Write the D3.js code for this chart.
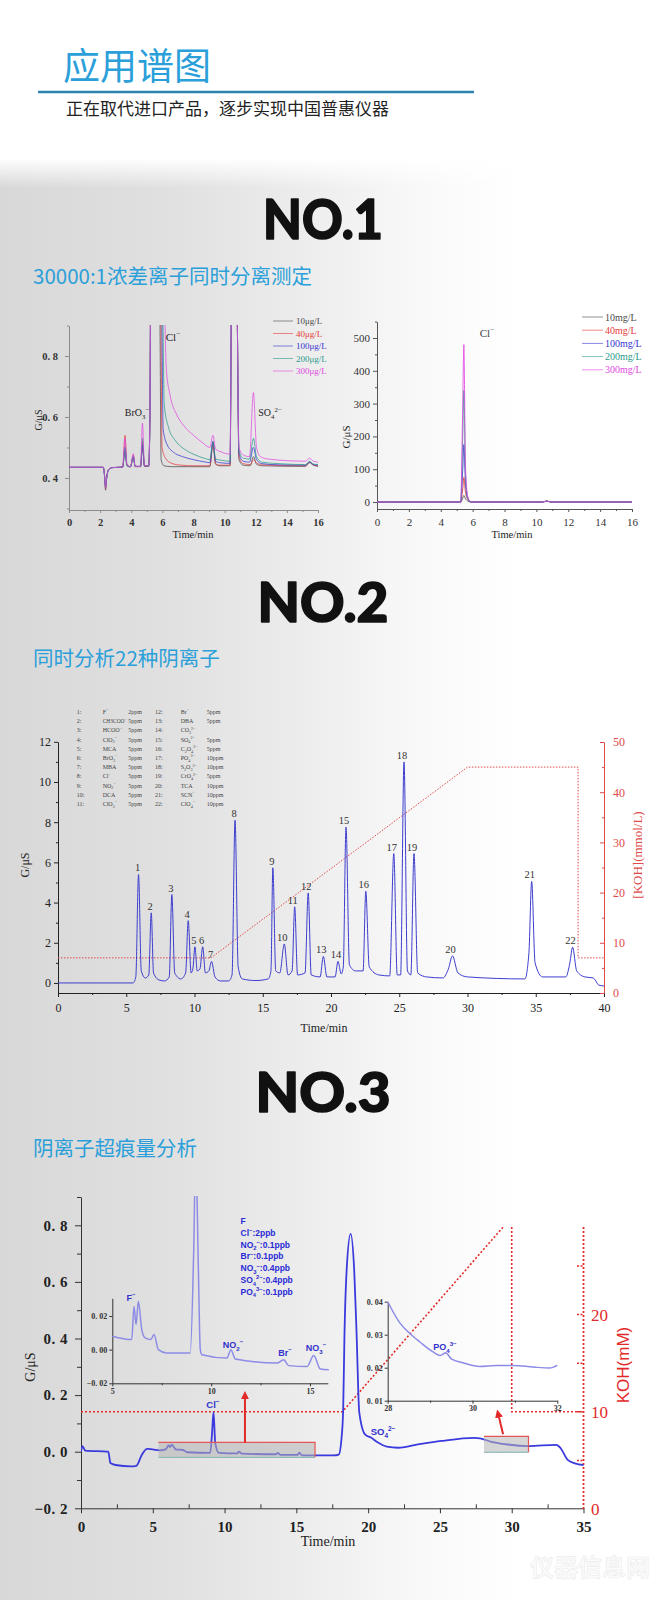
<!DOCTYPE html>
<html>
<head>
<meta charset="utf-8">
<script src="https://cdn.jsdelivr.net/npm/d3@7"></script>
<style>
  body { margin: 0; background: #fff; }
  svg { display: block; }
</style>
</head>
<body>
<div id="page"></div>
<script>
// ---------- data ----------
var headTitle = "应用谱图";
var headSub = "正在取代进口产品，逐步实现中国普惠仪器";
var sectionNames = ["NO.1", "NO.2", "NO.3"];
var sectionSubs = ["30000:1浓差离子同时分离测定", "同时分析22种阴离子", "阴离子超痕量分析"];

// NO.1 left : low level standards, G/uS vs time
var lowNames = ["10μg/L", "40μg/L", "100μg/L", "200μg/L", "300μg/L"];
var low10 = [[0,.435],[2.2,.435],[2.28,.41],[2.35,.36],[2.42,.40],[2.55,.428],[2.8,.434],[3.45,.435],[3.6,.49],[3.72,.44],[3.95,.436],[4.13,.47],[4.25,.437],[4.6,.437],[4.72,.50],[4.85,.438],[5.12,.438],[5.2,.6],[5.25,1.0],[5.82,1.0],[5.92,.46],[6.1,.44],[6.6,.437],[9.05,.437],[9.25,.51],[9.42,.445],[9.7,.44],[10.35,.44],[10.45,1.0],[10.78,1.0],[10.92,.46],[11.2,.442],[11.65,.44],[11.85,.47],[12.05,.445],[12.4,.44],[15.2,.438],[15.45,.45],[15.7,.442],[16,.438]];
var low40 = [[0,.435],[2.2,.435],[2.28,.41],[2.35,.365],[2.42,.40],[2.55,.428],[2.8,.434],[3.45,.436],[3.6,.54],[3.72,.445],[3.95,.437],[4.13,.475],[4.25,.438],[4.6,.438],[4.72,.52],[4.85,.44],[5.12,.44],[5.2,.6],[5.25,1.0],[5.88,1.0],[5.98,.5],[6.2,.465],[6.6,.448],[7.2,.442],[8,.44],[9.05,.44],[9.25,.515],[9.42,.447],[9.7,.442],[10.35,.442],[10.45,1.0],[10.78,1.0],[10.92,.47],[11.2,.447],[11.65,.444],[11.85,.46],[12.05,.45],[12.4,.443],[15.2,.44],[15.45,.452],[15.7,.443],[16,.44]];
var low100 = [[0,.435],[2.2,.435],[2.28,.41],[2.35,.37],[2.42,.40],[2.55,.428],[2.8,.434],[3.45,.436],[3.6,.50],[3.72,.442],[3.95,.437],[4.13,.47],[4.25,.438],[4.6,.438],[4.72,.51],[4.85,.44],[5.12,.44],[5.2,.6],[5.25,1.0],[5.94,1.0],[6.05,.56],[6.3,.51],[6.7,.485],[7.3,.47],[8,.46],[8.8,.452],[9.05,.45],[9.25,.52],[9.42,.455],[9.7,.45],[10.35,.448],[10.45,1.0],[10.78,1.0],[10.92,.48],[11.2,.455],[11.6,.452],[11.85,.50],[12.05,.46],[12.4,.447],[13.5,.443],[15.2,.442],[15.45,.452],[15.7,.444],[16,.442]];
var low200 = [[0,.435],[2.2,.435],[2.28,.41],[2.35,.37],[2.42,.40],[2.55,.428],[2.8,.434],[3.45,.436],[3.6,.50],[3.72,.442],[3.95,.437],[4.13,.47],[4.25,.438],[4.6,.438],[4.72,.53],[4.85,.44],[5.12,.44],[5.2,.6],[5.25,1.0],[6.0,1.0],[6.12,.64],[6.4,.565],[6.8,.525],[7.4,.495],[8,.478],[8.8,.463],[9.05,.46],[9.25,.52],[9.42,.462],[9.8,.458],[10.35,.455],[10.45,1.0],[10.78,1.0],[10.92,.49],[11.2,.465],[11.6,.462],[11.85,.53],[12.05,.47],[12.4,.452],[13.5,.447],[15.2,.444],[15.45,.455],[15.7,.446],[16,.444]];
var low300 = [[0,.435],[2.2,.435],[2.28,.41],[2.35,.37],[2.42,.40],[2.55,.428],[2.8,.434],[3.45,.436],[3.6,.53],[3.72,.444],[3.95,.437],[4.13,.48],[4.25,.438],[4.6,.438],[4.72,.58],[4.85,.44],[5.12,.44],[5.2,.6],[5.25,1.0],[6.1,1.0],[6.25,.76],[6.5,.67],[6.9,.61],[7.4,.57],[8,.54],[8.6,.515],[9.05,.5],[9.25,.54],[9.42,.495],[9.8,.485],[10.35,.478],[10.45,1.0],[10.78,1.0],[10.92,.5],[11.2,.475],[11.6,.47],[11.85,.68],[12.05,.5],[12.3,.47],[12.8,.462],[15.2,.455],[15.45,.465],[15.7,.455],[16,.452]];

// NO.1 right : high level standards
var highNames = ["10mg/L", "40mg/L", "100mg/L", "200mg/L", "300mg/L"];
var high10 = [[0,0],[5.25,0],[5.38,12],[5.45,20],[5.55,10],[5.7,3],[5.9,0],[10.4,0],[10.65,3],[10.9,0],[16,0]];
var high40 = [[0,0],[5.25,0],[5.38,40],[5.45,75],[5.55,30],[5.7,8],[5.9,0],[10.4,0],[10.65,3],[10.9,0],[16,0]];
var high100 = [[0,0],[5.25,0],[5.38,100],[5.45,175],[5.55,60],[5.7,10],[5.9,0],[10.4,0],[10.65,3],[10.9,0],[16,0]];
var high200 = [[0,0],[5.25,0],[5.38,200],[5.45,340],[5.55,90],[5.7,12],[5.9,0],[10.4,0],[10.65,3],[10.9,0],[16,0]];
var high300 = [[0,0],[5.25,0],[5.38,300],[5.45,480],[5.55,110],[5.7,15],[5.9,0],[10.4,0],[10.65,3],[10.9,0],[16,0]];

// NO.2 : 22 anions
var no2Trace = [[0,0],[5.5,0],[5.7,0.3],[5.9,5.4],[6.1,0.6],[6.4,0.25],[6.65,0.4],[6.83,3.49],[7.0,0.5],[7.4,0.15],[7.8,0.1],[8.15,0.3],[8.34,4.4],[8.55,0.5],[9.0,0.2],[9.35,0.5],[9.54,3.1],[9.75,0.5],[9.88,0.7],[10.03,1.8],[10.2,0.6],[10.4,0.7],[10.6,1.8],[10.8,0.5],[11.05,0.6],[11.25,1.07],[11.5,0.3],[11.9,0.1],[12.5,0.1],[12.75,0.4],[12.97,8.1],[13.2,0.8],[13.5,0.2],[14.5,0.12],[15.4,0.2],[15.6,0.6],[15.74,5.73],[15.95,0.6],[16.25,0.5],[16.58,1.94],[16.85,0.4],[17.15,0.6],[17.34,3.79],[17.55,0.4],[18.1,0.5],[18.33,4.48],[18.55,0.4],[19.2,0.3],[19.44,1.32],[19.7,0.3],[20.3,0.3],[20.51,1.07],[20.75,0.45],[20.9,0.8],[21.1,7.76],[21.35,0.9],[21.8,0.6],[22.35,0.6],[22.55,4.56],[22.8,0.8],[23.5,0.4],[24.3,0.35],[24.6,6.44],[24.85,0.4],[25.1,0.4],[25.35,11.0],[25.6,0.6],[25.85,0.4],[26.08,6.44],[26.35,0.5],[27,0.3],[28.2,0.25],[28.6,0.7],[28.9,1.35],[29.3,0.5],[30,0.3],[34.2,0.2],[34.5,1.5],[34.7,5.05],[34.95,1.0],[35.5,0.3],[37.2,0.3],[37.5,1.0],[37.7,1.78],[38,0.6],[38.6,0.3],[39.2,0.25],[39.4,0.1],[39.6,-0.1],[40,-0.15]];
var no2PeakT = [5.9,6.83,8.34,9.54,10.03,10.6,11.25,12.97,15.74,16.58,17.34,18.33,19.44,20.51,21.1,22.55,24.6,25.35,26.08,28.9,34.7,37.7];
var no2PeakH = [5.4,3.49,4.4,3.1,1.8,1.8,1.07,8.1,5.73,1.94,3.79,4.48,1.32,1.07,7.76,4.56,6.44,11.0,6.44,1.35,5.05,1.78];
var no2Koh = [[0,7],[11.2,7],[30,45],[38.1,45],[38.1,7],[40,7]];
var no2Ions = ["F^{−}","CH3COO^{−}","HCOO^{−}","ClO_{2}^{−}","MCA","BrO_{3}^{−}","MBA","Cl^{−}","NO_{2}^{−}","DCA","ClO_{3}^{−}",
               "Br^{−}","DBA","CO_{3}^{2−}","SO_{4}^{2−}","C_{2}O_{4}^{2−}","PO_{4}^{3−}","S_{2}O_{3}^{2−}","CrO_{4}^{2−}","TCA","SCN^{−}","ClO_{4}^{−}"];
var no2Conc = ["2ppm","5ppm","5ppm","5ppm","5ppm","5ppm","5ppm","5ppm","5ppm","5ppm","5ppm",
               "5ppm","5ppm","","5ppm","5ppm","10ppm","10ppm","5ppm","10ppm","10ppm","10ppm"];

// NO.3 : ultra trace
var no3Trace = [[0,0],[0.1,0.02],[0.3,0.004],[1.9,0.0],[2.05,-0.04],[2.4,-0.047],[3.5,-0.052],[3.85,-0.05],[4.25,-0.01],[4.6,0.01],[5.0,0.008],[5.5,0.005],[5.9,0.008],[6.1,0.022],[6.2,0.016],[6.32,0.025],[6.6,0.008],[7.1,0.006],[7.4,-0.002],[9.0,-0.004],[9.12,0.06],[9.23,0.14],[9.35,0.03],[9.6,-0.004],[10.9,-0.006],[11.0,0.0],[11.2,-0.007],[13.6,-0.009],[13.7,-0.004],[13.9,-0.011],[15.1,-0.011],[15.2,-0.003],[15.4,-0.013],[17.6,-0.013],[17.95,-0.01],[18.15,0.05],[18.26,0.147],[18.35,0.41],[18.5,0.64],[18.78,0.77],[19.03,0.64],[19.2,0.41],[19.38,0.14],[19.8,0.06],[20.2,0.05],[20.6,0.035],[21.3,0.018],[22.1,0.014],[23.3,0.024],[25.1,0.038],[27.4,0.049],[27.8,0.047],[28.6,0.035],[29.5,0.027],[31.2,0.02],[33.1,0.024],[33.4,0.013],[33.9,-0.029],[34.4,-0.041],[35,-0.047]];
var no3KohRamp = [[0,10],[18.2,10],[29.4,29]];
var no3KohDrop = [[30,29],[30,10],[35,10]];
var inset1Trace = [[5.0,0.008],[5.98,0.006],[6.1,0.0257],[6.2,0.0149],[6.32,0.0287],[6.49,0.0119],[6.66,0.007],[6.95,0.006],[7.11,0.009],[7.33,0.0],[7.75,-0.002],[8.94,-0.002],[9.12,0.06],[9.22,0.12],[9.35,0.05],[9.45,0.0],[9.53,-0.003],[10.8,-0.005],[11.0,0.0],[11.22,-0.0055],[13.33,-0.008],[13.67,-0.006],[13.92,-0.0095],[14.85,-0.01],[15.19,-0.0035],[15.52,-0.0115],[15.95,-0.012]];
var inset2Trace = [[28,0.04],[28.29,0.0335],[28.53,0.0303],[28.76,0.0278],[29.08,0.0247],[29.24,0.0237],[29.37,0.0245],[29.5,0.0227],[29.78,0.0215],[30.17,0.0204],[30.56,0.0207],[30.96,0.0207],[31.43,0.0202],[31.82,0.0199],[32,0.0207]];
var no3Conc = ["F","Cl^{−}:2ppb","NO_{2}^{−}:0.1ppb","Br^{−}:0.1ppb","NO_{3}^{−}:0.4ppb","SO_{4}^{2−}:0.4ppb","PO_{4}^{3−}:0.1ppb"];

// ---------- setup ----------
var serif = "'Liberation Serif','Times New Roman',serif";
var sans = "'Liberation Sans',Arial,sans-serif";
var cjk = "'Noto Sans CJK SC','Noto Sans',sans-serif";
var heavy = "Lato,Inter,'DejaVu Sans',sans-serif";
var seriesColor = ["#4a4a4a", "#e63b3b", "#3535d0", "#2a9a8c", "#e048e0"];
var blue = "#2b9fd9";

var svg = d3.select("#page").append("svg").attr("width", 663).attr("height", 1600);
var defs = svg.append("defs");

var gH = defs.append("linearGradient").attr("id", "bgH");
[[0, "#d8d8d8"], [0.25, "#e0e0e0"], [0.45, "#ececec"], [0.62, "#f8f8f8"], [0.78, "#ffffff"]].forEach(function(s) {
	gH.append("stop").attr("offset", s[0]).attr("stop-color", s[1]);
});
var gV = defs.append("linearGradient").attr("id", "bgV").attr("x1", 0).attr("x2", 0).attr("y1", 0).attr("y2", 1);
gV.append("stop").attr("offset", 0).attr("stop-color", "#fff").attr("stop-opacity", 1);
gV.append("stop").attr("offset", 1).attr("stop-color", "#fff").attr("stop-opacity", 0);

svg.append("rect").attr("width", 663).attr("height", 1600).attr("fill", "#fff");
svg.append("rect").attr("y", 160).attr("width", 663).attr("height", 1440).attr("fill", "url(#bgH)");
svg.append("rect").attr("y", 158).attr("width", 663).attr("height", 30).attr("fill", "url(#bgV)");

function clip(id, x, y, w, h) {
	defs.append("clipPath").attr("id", id).append("rect").attr("x", x).attr("y", y).attr("width", w).attr("height", h);
}

// text with _{sub} and ^{sup} parts
function rich(text, s, fs) {
	var parts = s.split(/(_\{[^}]*\}|\^\{[^}]*\})/).filter(function(p) { return p; });
	var off = 0;
	parts.forEach(function(p) {
		var target = 0, str = p, small = false;
		if (p.indexOf("_{") === 0) { target = fs * 0.3; str = p.slice(2, -1); small = true; }
		else if (p.indexOf("^{") === 0) { target = -fs * 0.42; str = p.slice(2, -1); small = true; }
		var ts = text.append("tspan").attr("dy", target - off).text(str);
		if (small) ts.attr("font-size", fs * 0.68);
		off = target;
	});
	return text;
}

function label(x, y, s, o) {
	o = o || {};
	var t = svg.append("text").attr("x", x).attr("y", y)
		.attr("font-family", o.font || serif).attr("font-size", o.size || 11)
		.attr("font-weight", o.weight || "normal").attr("fill", o.fill || "#222")
		.attr("text-anchor", o.anchor || "start");
	if (o.rotate) t.attr("transform", "rotate(" + o.rotate + "," + x + "," + y + ")");
	return rich(t, s, o.size || 11);
}

function axisG(gen, tx, ty, o) {
	var g = svg.append("g").attr("transform", "translate(" + tx + "," + ty + ")").call(gen);
	g.attr("font-family", o.font || serif).attr("font-size", o.size || 11).attr("font-weight", o.weight || "normal");
	g.select(".domain").attr("stroke", o.color || "#222").attr("stroke-width", o.width || 1);
	g.selectAll(".tick line").attr("stroke", o.color || "#222").attr("stroke-width", o.width || 1);
	g.selectAll(".tick text").attr("fill", o.text || "#222").attr("letter-spacing", o.spacing || 0);
	if (o.noDomain) g.select(".domain").remove();
	return g;
}

function trace(data, x, y, color, w, clipId, op) {
	var line = d3.line().x(function(d) { return x(d[0]); }).y(function(d) { return y(d[1]); }).curve(d3.curveMonotoneX);
	return svg.append("path").datum(data).attr("d", line).attr("fill", "none")
		.attr("stroke", color).attr("stroke-width", w).attr("stroke-opacity", op || 1)
		.attr("stroke-linejoin", "round").attr("clip-path", clipId ? "url(#" + clipId + ")" : null);
}

var dotFmt = function(d) { return d3.format(".1f")(d).replace(".", ". ").replace("-", "−"); };
var dot2Fmt = function(d) { return d3.format(".2f")(d).replace(".", ". "); };

// ---------- header ----------
svg.append("text").attr("x", 63).attr("y", 80).attr("font-family", cjk).attr("font-size", 37)
	.attr("fill", blue).text(headTitle);
svg.append("line").attr("x1", 38).attr("x2", 474).attr("y1", 92).attr("y2", 92)
	.attr("stroke", "#2a84ae").attr("stroke-width", 2.5);
svg.append("text").attr("x", 66).attr("y", 115).attr("font-family", cjk).attr("font-size", 17)
	.attr("fill", "#222").text(headSub);

var headY = [239, 622, 1112], headW = [120, 131, 135], subY = [284, 666, 1156];
sectionNames.forEach(function(s, i) {
	svg.append("text").attr("x", 323).attr("y", headY[i]).attr("text-anchor", "middle")
		.attr("font-family", heavy).attr("font-weight", 900).attr("font-size", 56)
		.attr("textLength", headW[i]).attr("lengthAdjust", "spacingAndGlyphs")
		.attr("fill", "#111").attr("stroke", "#111").attr("stroke-width", 1.6)
		.attr("stroke-linejoin", "round").text(s);
	svg.append("text").attr("x", 33).attr("y", subY[i]).attr("font-family", cjk).attr("font-size", 20.5)
		.attr("fill", blue).text(sectionSubs[i]);
});

// ---------- NO.1 left ----------
var xA = d3.scaleLinear().domain([0, 16]).range([69, 318]);
var yA = d3.scaleLinear().domain([0.295, 0.9]).range([510, 325.5]);
clip("cA", 69, 325, 250, 185);
var grayAx = { color: "#8c8c8c", text: "#333", size: 10.5, weight: "bold" };
axisG(d3.axisBottom(xA).tickValues(d3.range(0, 17, 2)).tickSize(3).tickPadding(6).tickSizeOuter(0), 0, 510, grayAx);
axisG(d3.axisBottom(xA).tickValues(d3.range(1, 16, 2)).tickSize(2).tickFormat(""), 0, 510, { color: "#8c8c8c", noDomain: true });
axisG(d3.axisLeft(yA).tickValues([0.4, 0.6, 0.8]).tickFormat(dotFmt).tickSize(4).tickPadding(7).tickSizeOuter(0), 69, 0, grayAx);
axisG(d3.axisLeft(yA).tickValues([0.3, 0.5, 0.7, 0.9]).tickSize(2).tickFormat(""), 69, 0, { color: "#8c8c8c", noDomain: true });
[low10, low40, low100, low200, low300].forEach(function(s, i) {
	trace(s, xA, yA, seriesColor[i], 1, "cA", 0.75);
});
lowNames.forEach(function(n, i) {
	var yy = 321 + i * 12.5;
	svg.append("line").attr("x1", 273).attr("x2", 293).attr("y1", yy).attr("y2", yy)
		.attr("stroke", seriesColor[i]).attr("stroke-opacity", 0.6);
	label(296, yy + 3, n, { size: 9, fill: seriesColor[i] });
});
label(137, 416, "BrO_{3}^{−}", { size: 10, anchor: "middle" });
label(173, 341, "Cl^{−}", { size: 11, anchor: "middle" });
label(270, 416, "SO_{4}^{2−}", { size: 10, anchor: "middle" });
label(193, 538, "Time/min", { size: 10.5, anchor: "middle" });
label(42, 420, "G/μS", { size: 10, anchor: "middle", rotate: -90 });

// ---------- NO.1 right ----------
var xB = d3.scaleLinear().domain([0, 16]).range([377, 632]);
var yB = d3.scaleLinear().domain([-21, 550]).range([508.9, 321.6]);
clip("cB", 377, 321, 256, 188);
var darkAx = { color: "#555", text: "#333", size: 11 };
axisG(d3.axisBottom(xB).tickValues(d3.range(0, 17, 2)).tickSize(3).tickPadding(6).tickSizeOuter(0), 0, 509, darkAx);
axisG(d3.axisBottom(xB).tickValues(d3.range(1, 16, 2)).tickSize(2).tickFormat(""), 0, 509, { color: "#555", noDomain: true });
axisG(d3.axisLeft(yB).tickValues(d3.range(0, 501, 100)).tickSize(4).tickPadding(3).tickSizeOuter(0), 377, 0, darkAx);
axisG(d3.axisLeft(yB).tickValues(d3.range(50, 551, 100)).tickSize(2).tickFormat(""), 377, 0, { color: "#555", noDomain: true });
[high10, high40, high100, high200, high300].forEach(function(s, i) {
	trace(s, xB, yB, seriesColor[i], 1, "cB", 0.85);
});
highNames.forEach(function(n, i) {
	var yy = 317 + i * 13.2;
	svg.append("line").attr("x1", 582).attr("x2", 603).attr("y1", yy).attr("y2", yy)
		.attr("stroke", seriesColor[i]).attr("stroke-opacity", 0.6);
	label(605, yy + 3.5, n, { size: 10, fill: seriesColor[i] });
});
label(487, 337, "Cl^{−}", { size: 11, anchor: "middle", fill: "#444" });
label(512, 538, "Time/min", { size: 10.5, anchor: "middle" });
label(350, 437, "G/μS", { size: 11, anchor: "middle", rotate: -90 });

// ---------- NO.2 ----------
var xC = d3.scaleLinear().domain([0, 40]).range([58, 604]);
var yC = d3.scaleLinear().domain([-0.5, 12]).range([993, 741.8]);
var yCk = d3.scaleLinear().domain([0, 50]).range([993, 742]);
clip("cC", 58, 738, 546, 256);
var red2 = "#e04a4a";
axisG(d3.axisBottom(xC).tickValues(d3.range(0, 41, 5)).tickSize(4).tickPadding(6).tickSizeOuter(0), 0, 993, { size: 12 });
axisG(d3.axisBottom(xC).tickValues(d3.range(2.5, 40, 5)).tickSize(2).tickFormat(""), 0, 993, { noDomain: true });
axisG(d3.axisLeft(yC).tickValues(d3.range(0, 13, 2)).tickSize(4).tickPadding(3).tickSizeOuter(0), 58, 0, { size: 12 });
axisG(d3.axisLeft(yC).tickValues(d3.range(1, 12, 2)).tickSize(2).tickFormat(""), 58, 0, { noDomain: true });
axisG(d3.axisRight(yCk).tickValues(d3.range(0, 51, 10)).tickSize(-4).tickPadding(9).tickSizeOuter(0), 604, 0, { size: 12, color: red2, text: red2 });
axisG(d3.axisRight(yCk).tickValues(d3.range(5, 50, 10)).tickSize(-2).tickFormat(""), 604, 0, { color: red2, noDomain: true });

svg.append("path").datum(no2Koh)
	.attr("d", d3.line().x(function(d) { return xC(d[0]); }).y(function(d) { return yCk(d[1]); }))
	.attr("fill", "none").attr("stroke", red2).attr("stroke-width", 1).attr("stroke-dasharray", "1.5,1.5");
trace(no2Trace, xC, yC, "#3d3dcf", 1, "cC");

no2PeakT.forEach(function(t, i) {
	var n = String(i + 1);
	label(xC(t) - (n.length > 1 ? 2 : 1), yC(no2PeakH[i]) - 3, n, { size: 10.5, anchor: "middle", fill: "#333" });
});

// legend table
var colX = [76.7, 102.7, 128.3, 155, 180.7, 206.7];
no2Ions.forEach(function(ion, i) {
	var c = i < 11 ? 0 : 3, r = i % 11;
	var yy = 714 + r * 9.2;
	label(colX[c], yy, (i + 1) + ":", { size: 6, fill: "#444" });
	var t = label(colX[c + 1], yy, ion, { size: 6, fill: "#444" });
	if (t.node().getComputedTextLength() > 24) t.attr("textLength", 24).attr("lengthAdjust", "spacingAndGlyphs");
	label(colX[c + 2], yy, no2Conc[i], { size: 6, fill: "#444" });
});
label(324, 1032, "Time/min", { size: 12, anchor: "middle" });
label(29, 865, "G/μS", { size: 12, anchor: "middle", rotate: -90 });
label(642, 855, "[KOH](mmol/L)", { size: 13, anchor: "middle", rotate: -90, fill: red2 });

// ---------- NO.3 ----------
var xD = d3.scaleLinear().domain([0, 35]).range([81, 583.5]);
var yD = d3.scaleLinear().domain([-0.2, 0.9]).range([1508.3, 1197]);
var yDk = d3.scaleLinear().domain([0, 29]).range([1509, 1227]);
clip("cD", 81, 1190, 503, 320);
var red3 = "#e32a2a";
var boldAx = { size: 15, weight: "bold", color: "#333", text: "#222" };
axisG(d3.axisBottom(xD).tickValues(d3.range(0, 36, 5)).tickSize(5).tickPadding(8).tickSizeOuter(0), 0, 1508.3, boldAx);
axisG(d3.axisBottom(xD).tickValues(d3.range(2.5, 35, 5)).tickSize(-4).tickFormat(""), 0, 1508.3, { color: "#333", noDomain: true });
axisG(d3.axisLeft(yD).tickValues([-0.2, 0, 0.2, 0.4, 0.6, 0.8]).tickFormat(dotFmt).tickSize(6).tickPadding(7).tickSizeOuter(0), 81, 0,
	{ size: 15, weight: "bold", color: "#333", text: "#222", spacing: 0.5 });
axisG(d3.axisLeft(yD).tickValues([-0.1, 0.1, 0.3, 0.5, 0.7, 0.9]).tickSize(4).tickFormat(""), 81, 0, { color: "#333", noDomain: true });

// red dotted KOH axis
svg.append("line").attr("x1", 583.5).attr("x2", 583.5).attr("y1", yDk(0)).attr("y2", yDk(29))
	.attr("stroke", red3).attr("stroke-width", 1.8).attr("stroke-dasharray", "2,2");
[5, 10, 15, 20, 25].forEach(function(v) {
	svg.append("line").attr("x1", 577).attr("x2", 583.5).attr("y1", yDk(v)).attr("y2", yDk(v))
		.attr("stroke", red3).attr("stroke-width", 1.5).attr("stroke-dasharray", "2,1.5");
});
[0, 10, 20].forEach(function(v) {
	label(591, yDk(v) + 6, String(v), { size: 17, fill: red3 });
});
label(629, 1365, "KOH(mM)", { size: 17, anchor: "middle", rotate: -90, fill: red3, font: sans });

var kohLine = d3.line().x(function(d) { return xD(d[0]); }).y(function(d) { return yDk(d[1]); });
[no3KohRamp, no3KohDrop].forEach(function(k) {
	svg.append("path").datum(k).attr("d", kohLine).attr("fill", "none")
		.attr("stroke", red3).attr("stroke-width", 1.6).attr("stroke-dasharray", "2,2");
});

trace(no3Trace, xD, yD, "#3a3ade", 1.8, "cD");

// zoom boxes on the main trace
[[5.4, 16.3, -0.02, 0.033], [28.07, 31.17, -0.002, 0.054]].forEach(function(b) {
	var x0 = xD(b[0]), x1 = xD(b[1]), y0 = yD(b[3]), y1 = yD(b[2]);
	svg.append("rect").attr("x", x0).attr("y", y0).attr("width", x1 - x0).attr("height", y1 - y0)
		.attr("fill", "#b4b4b4").attr("fill-opacity", 0.55);
	svg.append("path").attr("d", "M" + x0 + "," + y0 + "H" + x1 + "V" + y1)
		.attr("fill", "none").attr("stroke", "#e45555").attr("stroke-width", 1.2);
	svg.append("line").attr("x1", x0).attr("x2", x1).attr("y1", y1).attr("y2", y1)
		.attr("stroke", "#7fb3b3").attr("stroke-width", 1);
});

// arrows
defs.append("marker").attr("id", "arr").attr("viewBox", "0 0 10 10").attr("refX", 5).attr("refY", 5)
	.attr("markerWidth", 4).attr("markerHeight", 4).attr("orient", "auto")
	.append("path").attr("d", "M0,0L10,5L0,10z").attr("fill", red3);
[[11.42, 0.032, 11.42, 0.2], [29.4, 0.062, 29.05, 0.135]].forEach(function(a) {
	svg.append("line").attr("x1", xD(a[0])).attr("y1", yD(a[1])).attr("x2", xD(a[2])).attr("y2", yD(a[3]))
		.attr("stroke", red3).attr("stroke-width", 2).attr("marker-end", "url(#arr)");
});

var blueLab = "#3232cc";
label(213, 1408, "Cl^{−}", { size: 9.5, anchor: "middle", font: sans, weight: "bold", fill: blueLab });
label(383, 1435, "SO_{4}^{2−}", { size: 9.5, anchor: "middle", font: sans, weight: "bold", fill: blueLab });
label(328, 1546, "Time/min", { size: 14, anchor: "middle" });
label(35, 1367, "G/μS", { size: 14, anchor: "middle", rotate: -90 });

// inset 1
var xE = d3.scaleLinear().domain([5, 15.9]).range([112.3, 327.8]);
var yE = d3.scaleLinear().domain([-0.02, 0.0305]).range([1383.3, 1298.3]);
clip("cE", 112, 1196, 218, 188);
var insAx = { size: 8, weight: "bold", color: "#333", text: "#333" };
axisG(d3.axisBottom(xE).tickValues([5, 10, 15]).tickFormat(d3.format("d")).tickSize(3).tickPadding(2).tickSizeOuter(0), 0, 1383.3, insAx);
axisG(d3.axisBottom(xE).tickValues([7.5, 12.5]).tickSize(2).tickFormat(""), 0, 1383.3, { color: "#333", noDomain: true });
axisG(d3.axisLeft(yE).tickValues([-0.02, 0, 0.02]).tickFormat(dot2Fmt)
	.tickSize(3).tickPadding(2).tickSizeOuter(0), 112.3, 0, insAx);
trace(inset1Trace, xE, yE, "#8c8ce6", 1.5, "cE");
label(131, 1301, "F^{−}", { size: 9, anchor: "middle", font: sans, weight: "bold", fill: blueLab });
label(233, 1348, "NO_{2}^{−}", { size: 9, anchor: "middle", font: sans, weight: "bold", fill: blueLab });
label(285, 1356, "Br^{−}", { size: 9, anchor: "middle", font: sans, weight: "bold", fill: blueLab });
label(316, 1351, "NO_{3}^{−}", { size: 9, anchor: "middle", font: sans, weight: "bold", fill: blueLab });
no3Conc.forEach(function(s, i) {
	label(240.5, 1224 + i * 11.8, s, { size: 8.5, font: sans, weight: "bold", fill: "#2a2ad6" });
});

// inset 2
var xF = d3.scaleLinear().domain([28, 32]).range([387.7, 557.3]);
var yF = d3.scaleLinear().domain([0.01, 0.04]).range([1400.7, 1301.7]);
axisG(d3.axisBottom(xF).tickValues([28, 30, 32]).tickFormat(d3.format("d")).tickSize(3).tickPadding(2).tickSizeOuter(0), 0, 1400.7, insAx);
axisG(d3.axisBottom(xF).tickValues([29, 31]).tickSize(2).tickFormat(""), 0, 1400.7, { color: "#333", noDomain: true });
axisG(d3.axisLeft(yF).tickValues([0.01, 0.02, 0.03, 0.04]).tickFormat(dot2Fmt)
	.tickSize(3).tickPadding(2).tickSizeOuter(0), 387.7, 0, insAx);
trace(inset2Trace, xF, yF, "#8c8ce6", 1.5);
label(445, 1350, "PO_{4}^{3−}", { size: 9, anchor: "middle", font: sans, weight: "bold", fill: blueLab });

// faint watermark
svg.append("text").attr("x", 590).attr("y", 1576).attr("text-anchor", "middle").attr("font-family", cjk)
	.attr("font-size", 24).attr("font-weight", "bold").attr("fill", "#fbfbfb").attr("stroke", "#ececec")
	.attr("stroke-width", 0.6).text("仪器信息网");
</script>
</body>
</html>
